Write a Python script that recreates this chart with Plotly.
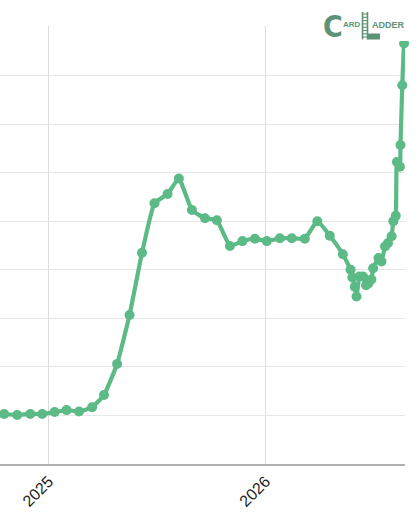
import plotly.graph_objects as go

dates = [
    "2024-10-18", "2024-11-09", "2024-12-01", "2024-12-21",
    "2025-01-11", "2025-01-31", "2025-02-21", "2025-03-15", "2025-04-04",
    "2025-04-26", "2025-05-17", "2025-06-07", "2025-06-28", "2025-07-20",
    "2025-08-08", "2025-08-30", "2025-09-21", "2025-10-11", "2025-11-02",
    "2025-11-23", "2025-12-14", "2026-01-03", "2026-01-25", "2026-02-14",
    "2026-03-08", "2026-03-29", "2026-04-19", "2026-05-11", "2026-05-24",
    "2026-05-27", "2026-05-31", "2026-06-03", "2026-06-08", "2026-06-14",
    "2026-06-19", "2026-06-23", "2026-06-28", "2026-07-01", "2026-07-10",
    "2026-07-15", "2026-07-21", "2026-07-26", "2026-08-01", "2026-08-04",
    "2026-08-08", "2026-08-10", "2026-08-15", "2026-08-16", "2026-08-19",
    "2026-08-22", "2026-08-24",
]
values = [
    103, 101, 103, 103,
    107, 111, 108, 117, 142,
    206, 307, 435, 537, 556,
    588, 523, 506, 502, 449,
    459, 464, 459, 465, 465,
    464, 500, 470, 432, 400,
    384, 365, 345, 386, 386,
    368, 372, 380, 403, 424,
    417, 448, 455, 469, 500,
    511, 622, 612, 657, 780,
    866, 840,
]
x_tick_vals = ["2025-01-01", "2026-01-01"]
x_tick_text = ["2025", "2026"]

green = "#5BBA86"

fig = go.Figure()
fig.add_trace(go.Scatter(
    x=dates, y=values, mode="lines+markers",
    line=dict(color=green, width=4.2, shape="spline", smoothing=0.4),
    marker=dict(color=green, size=10),
    cliponaxis=False, hoverinfo="skip",
))

fig.update_layout(
    width=418, height=524,
    margin=dict(l=0, r=13, t=26, b=60, autoexpand=False),
    paper_bgcolor="white", plot_bgcolor="white",
    showlegend=False,
    font=dict(family="Liberation Sans, Arial, sans-serif", color="#222"),
    xaxis=dict(
        type="date",
        range=["2024-10-11", "2026-08-23 14:00"],
        tickvals=x_tick_vals, ticktext=x_tick_text,
        tickangle=-45, tickfont=dict(size=16, color="#222"),
        showgrid=True, gridcolor="#dcdcdc", gridwidth=1,
        showline=True, linecolor="#b0b0b0", linewidth=1.5,
        zeroline=False, ticks="", automargin=False,
    ),
    yaxis=dict(
        range=[0, 902], dtick=100, tick0=0,
        showticklabels=False, showgrid=True, gridcolor="#e6e6e6", gridwidth=1.2,
        zeroline=False, showline=False, ticks="", automargin=False,
    ),
)

# ---- Card Ladder logo (text + simple ladder drawing), positioned in page pixels ----
logo_color = "#5E9274"
W, H = 405.0, 438.0


def px(xp):
    return xp / W


def py(yp):
    return (464.0 - yp) / H


# white backing box for the logo
fig.add_shape(type="rect", xref="paper", yref="paper", x0=px(323), x1=px(418), y0=py(41), y1=py(8),
              fillcolor="white", line=dict(width=0), layer="above")

fig.add_annotation(xref="paper", yref="paper", x=px(322), y=py(26), xanchor="left", yanchor="middle",
                   text="<b>C</b>", showarrow=False, borderpad=0,
                   font=dict(size=30, color=logo_color, family="DejaVu Sans Condensed, DejaVu Sans"))
fig.add_annotation(xref="paper", yref="paper", x=px(361.5), y=py(25), xanchor="right", yanchor="middle",
                   text="<b>ARD</b>", showarrow=False, borderpad=0,
                   font=dict(size=8, color=logo_color, family="Liberation Sans"))
fig.add_annotation(xref="paper", yref="paper", x=px(406), y=py(25), xanchor="right", yanchor="middle",
                   text="<b>ADDER</b>", showarrow=False, borderpad=0,
                   font=dict(size=9, color=logo_color, family="Liberation Sans"))

# ladder "L"
for xr in (362.5, 367.5):
    fig.add_shape(type="line", xref="paper", yref="paper", x0=px(xr), x1=px(xr), y0=py(39.5), y1=py(12),
                  line=dict(color=logo_color, width=1.6), layer="above")
for k in range(8):
    yr = 14 + k * 3.3
    fig.add_shape(type="line", xref="paper", yref="paper", x0=px(362.5), x1=px(367.5), y0=py(yr), y1=py(yr),
                  line=dict(color=logo_color, width=1.1), layer="above")
fig.add_shape(type="rect", xref="paper", yref="paper", x0=px(367.5), x1=px(380), y0=py(39.5), y1=py(33.5),
              fillcolor=logo_color, line=dict(width=0), layer="above")

fig.write_html("out.html", config={"displayModeBar": False},
               post_script="document.body.style.margin='0';")
